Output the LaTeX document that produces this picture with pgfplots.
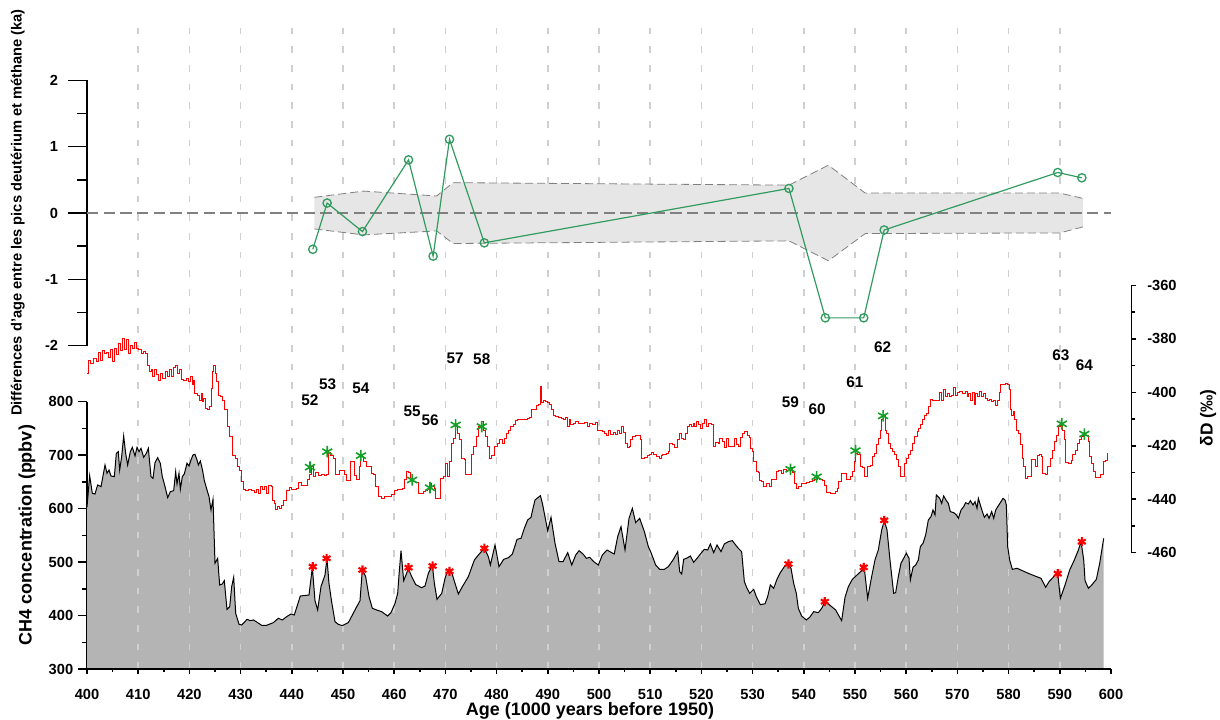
\documentclass[border=0pt]{standalone}
\usepackage{fontspec}
\setmainfont{Liberation Sans}
\usepackage{pgfplots}
\pgfplotsset{compat=1.18}
\usetikzlibrary{plotmarks}
\definecolor{ch4fill}{RGB}{180,180,180}
\definecolor{bandfill}{RGB}{230,230,230}
\definecolor{gridc}{RGB}{208,208,208}
\definecolor{topgreen}{RGB}{50,155,95}
\definecolor{stargreen}{RGB}{20,160,40}
\definecolor{zerogray}{RGB}{128,128,128}

\pgfplotstableread{
age ch4
400.00 603
400.52 661.6
401.04 628.6
401.56 627.3
402.08 644.2
402.74 641.1
403.52 681.6
403.91 666.0
404.30 672.2
404.69 661.0
405.34 659.8
405.73 703.4
406.12 706.5
406.38 672.2
406.77 697.2
407.16 735.8
407.55 703.4
407.94 681.6
408.46 706.5
408.85 714.6
409.38 698.4
409.77 714.6
410.16 706.5
410.55 712.8
411.07 695.9
411.59 703.4
411.98 712.8
412.50 659.8
412.89 656.6
413.28 685.9
413.80 695.3
414.32 684.7
414.71 659.8
415.24 641.1
415.76 620.5
416.28 631.7
416.93 633.6
417.32 669.1
417.58 646.0
417.97 666.0
418.23 636.1
418.62 659.8
419.01 664.8
419.53 684.7
419.92 679.7
420.31 691.0
420.70 700.3
421.09 701.5
421.49 691.0
421.75 681.6
422.14 689.1
422.53 673.5
422.92 652.3
423.44 634.8
423.83 622.3
424.22 597.4
424.61 617.4
425.00 497.7
425.52 507.0
425.91 457.1
426.43 459.0
426.82 465.2
427.34 411.6
427.87 416.6
428.26 454.0
428.65 471.5
429.04 404.1
429.69 383.6
430.21 382.3
430.73 387.3
431.25 392.9
431.90 390.4
432.55 391.7
434.11 381.7
435.09 381.7
436.39 386.7
437.37 394.8
438.15 391.7
439.00 397.9
439.84 402.9
440.49 401.0
441.66 436.5
443.36 438.4
444.01 490.2
444.53 427.8
445.05 410.4
445.70 454.0
446.48 475.8
446.87 507.0
447.26 460.2
447.78 425.9
448.44 388.5
449.09 383.5
449.87 381.1
451.04 386.7
452.34 410.4
453.32 427.8
453.77 485.2
454.43 472.7
455.08 435.3
455.73 413.5
456.57 410.4
457.55 407.2
458.72 399.1
459.37 405.4
460.16 422.8
460.68 441.5
460.94 475.8
461.33 521.3
461.85 465.2
462.43 478.9
462.76 488.3
463.41 472.7
464.19 458.0
465.36 452.0
466.02 455.3
466.67 478.9
467.45 494.5
467.84 460.2
468.36 430.3
469.28 441.5
469.93 469.6
470.45 483.9
471.23 480.2
471.88 460.2
472.53 440.3
473.31 454.0
474.48 472.7
475.66 503.9
476.44 513.2
477.61 525.7
478.39 510.1
478.78 494.5
479.69 532.0
480.47 491.4
481.38 505.1
482.30 508.2
483.08 515.1
483.99 542.5
484.77 544.4
485.42 563.1
486.07 578.7
486.72 583.7
487.11 600.5
487.50 616.1
488.55 624.2
488.94 609.9
489.98 558.8
490.63 583.7
491.41 535.1
492.19 500.8
492.97 500.8
493.89 517.6
494.67 494.5
495.45 513.2
496.10 521.3
496.88 515.1
497.53 507.0
498.18 508.9
498.96 500.8
499.87 494.5
500.65 513.2
501.56 522.6
502.47 517.6
502.98 515.1
503.65 547.5
504.30 566.2
505.08 522.6
505.86 581.8
506.51 600.5
507.16 573.7
507.94 581.8
508.86 556.9
509.64 528.8
510.16 517.6
511.07 494.5
511.85 486.4
512.76 486.4
513.54 491.4
514.45 503.9
515.37 519.5
515.76 482.1
516.15 477.7
516.54 505.1
517.32 508.2
517.84 511.4
518.49 499.5
519.14 507.0
519.92 516.4
520.57 523.8
521.22 522.6
521.75 533.8
522.40 517.6
523.05 531.9
523.83 519.5
524.48 533.8
525.26 538.2
526.04 540.0
526.69 531.9
527.21 525.7
527.86 519.5
528.39 463.4
528.91 450.9
529.43 441.5
530.21 449.0
530.73 435.3
531.51 420.3
532.42 422.0
532.94 435.3
533.46 457.1
534.11 450.9
534.76 467.7
535.41 480.2
536.20 491.4
536.98 496.4
537.50 488.3
538.02 460.2
538.54 441.5
538.93 413.5
539.58 399.1
540.49 391.7
541.14 396.6
541.93 407.2
542.84 405.4
543.49 413.5
544.14 425.9
544.79 421.6
545.44 416.6
546.22 410.4
546.87 399.1
547.39 390.4
548.05 434.0
548.70 454.0
549.48 467.7
550.39 475.8
551.30 483.9
551.82 488.3
552.47 432.2
553.25 472.7
553.90 503.9
554.55 522.6
555.21 560.0
555.73 577.5
556.25 560.0
556.90 497.7
557.55 441.5
557.94 442.8
558.46 472.7
558.98 497.7
559.50 507.0
560.03 516.4
560.55 507.0
560.81 466.5
561.33 490.2
561.85 494.5
562.37 503.9
562.76 528.8
563.28 535.1
563.80 550.6
564.32 578.7
564.84 584.9
565.23 597.4
565.62 588.1
565.88 625.5
566.54 619.2
566.93 609.9
567.32 623.6
567.84 614.9
568.23 609.9
568.62 594.3
569.28 592.4
569.80 588.1
570.19 581.8
570.71 597.4
571.23 603.6
571.62 611.1
572.14 608.6
572.53 614.9
573.05 606.8
573.44 613.0
573.83 600.5
574.09 619.2
574.48 606.8
574.88 594.3
575.27 583.7
575.79 589.9
576.18 581.8
576.70 594.3
577.09 581.8
577.48 597.4
577.87 603.6
578.39 611.1
578.91 619.2
579.30 616.1
579.56 606.8
579.82 528.8
580.21 503.9
580.73 486.4
581.65 488.3
582.69 483.9
583.86 478.9
585.16 473.9
586.33 469.6
587.24 452.8
587.90 463.4
588.94 473.9
589.59 478.9
590.11 432.2
591.02 457.1
591.93 485.2
592.84 503.9
593.63 522.6
594.15 538.2
594.67 503.9
594.93 465.2
595.58 450.9
596.23 457.1
597.14 467.7
597.79 497.7
598.57 544.4
}\chfour

\pgfplotstableread{
age dD
400.00 -392.9
400.39 -387.9
400.78 -389.1
401.30 -387.3
401.82 -388.5
402.21 -385.1
402.60 -387.9
402.99 -384.4
403.39 -385.6
403.78 -385.1
404.17 -386.9
404.56 -384.1
404.95 -388.5
405.34 -383.5
405.73 -386.0
406.12 -381.9
406.51 -384.4
406.90 -379.8
407.29 -384.1
407.68 -380.4
408.07 -385.4
408.46 -382.3
408.85 -383.5
409.25 -381.4
409.64 -383.5
410.03 -384.1
410.55 -385.6
411.07 -384.8
411.46 -385.6
411.72 -389.8
412.11 -392.3
412.50 -391.6
412.89 -394.1
413.28 -391.6
413.67 -393.5
414.06 -395.4
414.45 -392.9
414.84 -394.8
415.24 -392.3
415.63 -394.1
416.02 -391.4
416.41 -393.9
416.80 -390.6
417.19 -389.8
417.58 -392.9
417.97 -391.4
418.36 -395.1
418.88 -395.4
419.40 -394.8
419.79 -396.0
420.18 -394.1
420.57 -396.9
420.83 -395.4
421.09 -400.4
421.49 -401.0
421.88 -402.9
422.27 -400.4
422.53 -403.5
422.79 -402.2
423.18 -406.0
423.57 -406.6
423.83 -405.4
424.22 -398.5
424.54 -392.3
424.80 -389.8
425.13 -392.9
425.39 -396.0
425.65 -401.0
426.04 -401.6
426.43 -402.9
426.95 -406.6
427.47 -412.8
427.86 -416.6
428.39 -423.5
428.91 -424.7
429.30 -427.8
429.69 -429.1
430.08 -433.4
430.47 -436.5
430.86 -436.8
431.51 -436.5
432.16 -436.8
432.81 -437.5
433.14 -436.3
433.59 -437.8
433.98 -435.3
434.37 -436.3
434.76 -435.3
435.15 -437.8
435.54 -434.8
435.94 -435.1
436.20 -440.3
436.59 -441.5
436.85 -444.0
437.24 -442.8
437.63 -443.4
438.02 -442.2
438.41 -440.3
439.06 -436.8
439.58 -435.6
439.97 -436.5
440.49 -436.3
441.01 -435.9
441.40 -433.8
441.92 -434.8
442.45 -434.7
442.97 -432.6
443.49 -430.6
443.88 -427.6
444.27 -431.6
444.66 -430.1
445.18 -431.2
445.83 -430.7
446.48 -431.3
446.87 -430.6
447.13 -422.6
447.65 -423.8
448.17 -424.7
448.44 -430.9
449.35 -429.1
450.26 -430.9
450.78 -433.1
451.56 -425.9
452.21 -431.3
452.73 -432.8
453.25 -427.8
453.51 -424.1
454.03 -425.9
454.55 -427.6
455.08 -427.8
455.47 -430.3
455.99 -430.9
456.38 -435.1
457.03 -439.0
457.55 -439.7
458.20 -438.8
458.85 -439.0
459.50 -438.4
460.03 -436.8
460.55 -436.3
461.59 -435.9
461.98 -432.8
462.37 -429.7
462.76 -430.1
463.15 -432.6
463.67 -433.4
464.19 -433.8
464.71 -437.8
465.23 -438.0
465.75 -437.2
466.02 -436.8
466.54 -436.3
466.93 -434.3
467.32 -435.3
467.84 -435.9
468.10 -439.7
469.01 -432.2
469.54 -431.6
469.93 -426.6
470.32 -431.6
470.71 -425.9
471.10 -419.1
471.49 -417.2
471.88 -412.8
472.27 -415.3
472.79 -417.8
473.18 -424.7
473.70 -425.3
473.96 -430.6
475.00 -430.1
475.13 -423.4
475.53 -420.3
476.05 -416.6
476.44 -412.8
476.96 -411.0
477.35 -414.1
477.87 -416.6
478.26 -420.3
478.65 -424.7
479.04 -423.8
479.56 -420.3
480.08 -419.1
480.60 -417.8
481.12 -419.1
481.51 -417.2
481.91 -415.3
482.30 -414.1
482.69 -412.8
483.21 -412.2
483.60 -410.6
484.12 -410.3
485.94 -409.7
486.33 -409.3
486.72 -406.6
487.24 -406.4
487.76 -405.1
488.16 -404.4
488.55 -397.9
488.81 -403.9
489.20 -403.1
489.59 -403.5
489.98 -403.9
490.37 -404.7
490.63 -406.6
491.15 -408.5
491.54 -409.1
492.06 -409.4
492.58 -409.7
493.10 -410.1
493.49 -409.3
493.75 -412.6
494.15 -410.3
494.41 -412.2
494.93 -411.8
495.45 -411.0
495.97 -411.6
496.62 -411.8
497.14 -411.3
497.66 -412.6
498.18 -411.6
498.70 -412.2
499.22 -411.3
499.61 -414.1
500.13 -414.3
500.65 -414.7
501.17 -415.3
501.56 -416.3
501.82 -414.1
502.21 -415.6
502.74 -415.1
503.26 -415.6
503.65 -414.1
504.04 -415.3
504.30 -412.8
504.69 -415.1
505.08 -419.1
505.47 -420.6
505.86 -420.1
506.25 -417.8
506.64 -416.6
507.16 -416.1
507.68 -416.3
508.07 -417.8
508.33 -424.7
508.86 -424.3
509.38 -423.8
509.77 -423.4
510.16 -422.6
510.68 -423.4
511.20 -424.1
511.72 -424.7
512.11 -423.8
512.50 -423.1
513.15 -422.8
513.54 -422.2
513.80 -419.1
514.32 -419.7
514.84 -420.6
515.24 -417.8
515.63 -415.3
516.15 -417.2
516.54 -417.8
516.93 -415.3
517.19 -412.8
517.58 -412.2
517.97 -412.6
518.36 -411.8
518.75 -412.8
519.14 -411.0
519.40 -412.2
519.92 -413.5
520.18 -411.8
520.57 -410.3
520.96 -412.8
521.36 -411.8
521.88 -412.2
522.40 -420.1
522.79 -418.8
523.31 -419.1
523.57 -417.2
524.09 -418.5
524.48 -420.6
524.87 -417.2
525.26 -420.3
525.65 -420.1
526.17 -420.3
526.56 -417.2
526.95 -419.7
527.34 -420.1
527.60 -416.8
527.99 -415.3
528.39 -414.7
528.91 -416.3
529.30 -416.8
529.56 -420.9
529.95 -422.2
530.21 -425.9
530.73 -429.7
531.12 -430.1
531.38 -433.1
531.77 -433.4
532.16 -435.3
532.81 -434.1
533.33 -435.3
533.72 -432.8
534.24 -432.6
534.76 -429.7
535.15 -429.3
535.55 -430.3
536.07 -428.8
536.59 -429.3
536.98 -429.1
537.37 -428.1
537.76 -430.1
538.15 -434.3
538.67 -435.9
539.06 -435.3
539.58 -434.3
540.10 -434.1
540.62 -433.7
541.14 -433.4
541.66 -433.1
542.06 -432.6
542.58 -432.2
543.10 -432.8
543.62 -433.1
544.01 -434.7
544.53 -437.5
545.18 -437.8
545.83 -437.8
546.22 -437.2
546.61 -435.9
546.87 -433.4
547.39 -430.3
548.31 -432.6
548.70 -432.8
549.09 -431.6
549.48 -429.7
549.87 -425.9
550.13 -422.8
550.52 -423.4
551.04 -427.6
551.43 -428.1
551.82 -431.6
552.47 -427.8
552.99 -427.2
553.38 -424.1
553.77 -422.8
554.17 -419.7
554.56 -417.1
554.95 -414.1
555.21 -410.3
555.60 -408.5
555.86 -414.1
556.25 -415.3
556.64 -419.1
557.03 -420.9
557.42 -422.2
557.81 -423.4
558.20 -425.3
558.59 -427.8
558.85 -431.6
559.63 -426.6
560.03 -424.7
560.42 -423.4
560.81 -421.6
561.20 -419.1
561.59 -416.6
562.11 -414.7
562.50 -413.5
562.89 -412.2
563.28 -410.3
563.67 -408.8
564.06 -407.9
564.32 -405.4
564.71 -402.6
565.23 -403.1
565.63 -402.9
566.02 -403.1
566.41 -400.1
566.80 -402.9
567.19 -399.1
567.58 -401.6
567.97 -400.4
568.36 -401.6
568.76 -401.0
569.15 -398.1
569.54 -401.0
569.93 -400.1
570.45 -399.7
570.97 -400.6
571.49 -399.7
571.88 -401.6
572.14 -400.4
572.53 -402.9
572.92 -400.1
573.31 -404.7
573.57 -400.4
573.96 -401.4
574.35 -399.7
574.74 -401.4
575.14 -400.4
575.53 -402.2
575.92 -402.9
576.31 -402.6
576.70 -403.5
577.09 -403.1
577.35 -405.1
577.74 -402.9
578.13 -400.1
578.39 -396.9
578.91 -397.2
579.43 -396.6
579.82 -397.2
580.08 -399.1
580.34 -406.6
580.60 -408.5
580.86 -407.2
581.12 -410.3
581.52 -414.1
581.91 -415.3
582.30 -419.7
582.69 -424.7
582.95 -427.8
583.21 -432.2
583.73 -431.6
584.51 -425.3
585.16 -427.6
585.55 -423.8
585.94 -423.4
586.33 -424.1
586.59 -430.3
587.11 -430.9
587.64 -427.6
588.16 -424.7
588.55 -421.6
588.94 -418.5
589.33 -416.3
589.72 -412.8
590.11 -412.2
590.50 -414.1
590.89 -417.8
591.15 -426.3
591.67 -426.6
592.19 -425.6
592.45 -423.1
592.97 -421.8
593.36 -419.1
593.76 -417.8
594.28 -416.6
594.67 -415.6
595.06 -416.3
595.58 -418.5
595.84 -424.1
596.23 -426.6
596.62 -429.7
597.01 -431.8
597.92 -430.6
598.57 -425.9
598.96 -425.6
599.22 -422.8
599.40 -422.8
}\deut

\pgfplotstableread{
age diff
444.1 -0.547
446.9 0.15
453.8 -0.28
462.8 0.80
467.6 -0.65
470.8 1.11
477.6 -0.45
537.1 0.37
544.2 -1.58
551.7 -1.58
555.7 -0.256
589.6 0.61
594.3 0.53
}\agediff

\pgfplotstableread{
age up lo
444.4 0.236 -0.24
454.0 0.33 -0.33
468.3 0.256 -0.27
471.5 0.457 -0.46
537.1 0.42 -0.42
544.8 0.72 -0.72
552.0 0.30 -0.31
590.0 0.30 -0.30
594.5 0.22 -0.21
}\band

\pgfplotstableread{
age dD
443.55 -428.0
446.93 -422.2
453.50 -423.7
463.50 -432.8
467.00 -435.7
472.00 -412.2
477.10 -412.8
537.40 -428.8
542.50 -431.6
550.10 -421.8
555.50 -408.8
590.40 -411.8
594.80 -415.6
}\dpeaks

\pgfplotstableread{
age ch4
444.1 491.4
446.8 507.0
453.8 485.2
462.8 489.5
467.5 492.7
470.8 482.7
477.6 525.8
537.0 496.4
544.1 425.9
551.7 490.2
555.7 578.1
589.6 478.3
594.3 538.1
}\cpeaks

\begin{document}
\begin{tikzpicture}[x=1pt,y=1pt]
\useasboundingbox (0,0) rectangle (915,540);
\pgfplotsset{
  every axis/.append style={scale only axis, anchor=south west, xmin=400, xmax=600, width=768pt,
    /pgf/number format/assume math mode=true},
  tlab/.style={font=\fontsize{11}{13}\selectfont\bfseries, inner sep=0pt},
}
% CH4 fill + left axis
\begin{axis}[at={(65.25pt,38.25pt)}, height=200.5pt, ymin=300, ymax=800,
  axis x line=none, axis y line*=left, axis line style={-, line width=1.1pt},
  ytick={300,400,...,800}, minor y tick num=1, tick align=outside,
  major tick length=6.75pt, minor tick length=3.75pt,
  tick style={black, line width=1.1pt},
  yticklabel style={tlab, anchor=east, xshift=-3.4pt}]
\addplot[fill=ch4fill, draw=none] table[x=age, y=ch4] {\chfour} -- (axis cs:598.57,300) -- (axis cs:400,300) -- cycle;
\end{axis}
% vertical grid
\begin{axis}[at={(65.25pt,38.25pt)}, height=481.5pt, ymin=0, ymax=1,
  axis line style={draw=none}, ytick=\empty, xtick={410,420,...,590}, xticklabels={},
  major tick length=0pt, tick style={draw=none}, xmajorgrids,
  grid style={gridc, line width=1.1pt, dash pattern=on 5pt off 9pt}]
\end{axis}
% CH4 line + peaks
\begin{axis}[at={(65.25pt,38.25pt)}, height=200.5pt, ymin=300, ymax=800, hide axis, clip=false]
\addplot[black, line width=0.75pt] table[x=age, y=ch4] {\chfour};
\addplot[only marks, red, mark=asterisk, mark size=3.4pt, line width=1.6pt] table[x=age, y=ch4] {\cpeaks};
\end{axis}
% bottom x axis
\begin{axis}[at={(65.25pt,38.25pt)}, height=200.5pt, ymin=0, ymax=1,
  axis x line*=bottom, axis y line=none, axis line style={-, line width=1.1pt},
  xtick={400,410,...,600}, minor x tick num=1, tick align=outside,
  major tick length=3.5pt, minor tick length=2.2pt, tick style={black, line width=1.1pt},
  xticklabel style={tlab, anchor=base, yshift=-19.5pt}]
\end{axis}
% deuterium
\begin{axis}[at={(65.25pt,125.5pt)}, width=783.5pt, xmax=604.04, height=200.4pt, ymin=-460, ymax=-360,
  axis x line=none, axis y line*=right, axis line style={-, line width=1.1pt},
  ytick={-460,-440,...,-360}, minor y tick num=1, tick align=outside,
  major tick length=3.5pt, minor tick length=2.5pt, tick style={black, line width=1.1pt},
  yticklabel style={tlab, anchor=west, xshift=8pt}, clip=false]
\addplot[only marks, stargreen, mark=asterisk, mark size=4.3pt, line width=1.2pt] table[x=age, y=dD] {\dpeaks};
\addplot[red, line width=0.75pt, const plot] table[x=age, y=dD] {\deut};
\begin{scope}[every node/.style={font=\fontsize{11.5}{13}\selectfont\bfseries}]
\node at (axis cs:443.55,-402.9) {52};
\node at (axis cs:447.0,-396.9) {53};
\node at (axis cs:453.5,-398.5) {54};
\node at (axis cs:463.5,-407.2) {55};
\node at (axis cs:467.0,-410.3) {56};
\node at (axis cs:471.9,-387.2) {57};
\node at (axis cs:477.1,-387.6) {58};
\node at (axis cs:537.4,-403.7) {59};
\node at (axis cs:542.6,-406.2) {60};
\node at (axis cs:550.0,-396.4) {61};
\node at (axis cs:555.4,-383.3) {62};
\node at (axis cs:590.2,-386.3) {63};
\node at (axis cs:594.8,-390.0) {64};
\end{scope}
\end{axis}
% top panel
\begin{axis}[at={(65.25pt,280.7pt)}, height=199.1pt, ymin=-2, ymax=2,
  axis x line=none, axis y line*=left, axis line style={-, line width=1.1pt},
  ytick={-2,-1,...,2}, minor y tick num=1, tick align=outside,
  major tick length=14.5pt, minor tick length=7.25pt, tick style={black, line width=1.1pt},
  yticklabel style={tlab, anchor=east, xshift=-7pt}, clip=false]
\addplot[fill=bandfill, draw=none] coordinates {(444.4,0.236) (454.0,0.33) (468.3,0.256) (471.5,0.457) (537.1,0.42) (544.8,0.72) (552.0,0.30) (590.0,0.30) (594.5,0.22) (594.5,-0.21) (590.0,-0.30) (552.0,-0.31) (544.8,-0.72) (537.1,-0.42) (471.5,-0.46) (468.3,-0.27) (454.0,-0.33) (444.4,-0.24)} -- cycle;
\addplot[zerogray, line width=0.6pt, dash pattern=on 6pt off 3pt] table[x=age, y=up] {\band};
\addplot[zerogray, line width=0.6pt, dash pattern=on 6pt off 3pt] table[x=age, y=lo] {\band};
\addplot[zerogray, line width=1.4pt, dash pattern=on 8.5pt off 4pt] coordinates {(400,0) (600,0)};
\addplot[topgreen, line width=0.9pt, mark=o, mark size=3.1pt, mark options={line width=1pt}] table[x=age, y=diff] {\agediff};
\end{axis}
% axis titles
\node[rotate=90, anchor=base, font=\fontsize{13.5}{15}\selectfont\bfseries] at (23.8,138.75) {CH4 concentration (ppbv)};
\node[rotate=90, anchor=base, font=\fontsize{11}{13}\selectfont\bfseries] at (16.3,380.6) {Différences d'age entre les pics deutérium et méthane (ka)};
\node[rotate=90, anchor=base, font=\fontsize{13}{15}\selectfont\bfseries] at (909.5,226.5) {δD (‰)};
\node[anchor=base, font=\fontsize{13.5}{15}\selectfont\bfseries] at (442.5,3.6) {Age (1000 years before 1950)};
\end{tikzpicture}
\end{document}
